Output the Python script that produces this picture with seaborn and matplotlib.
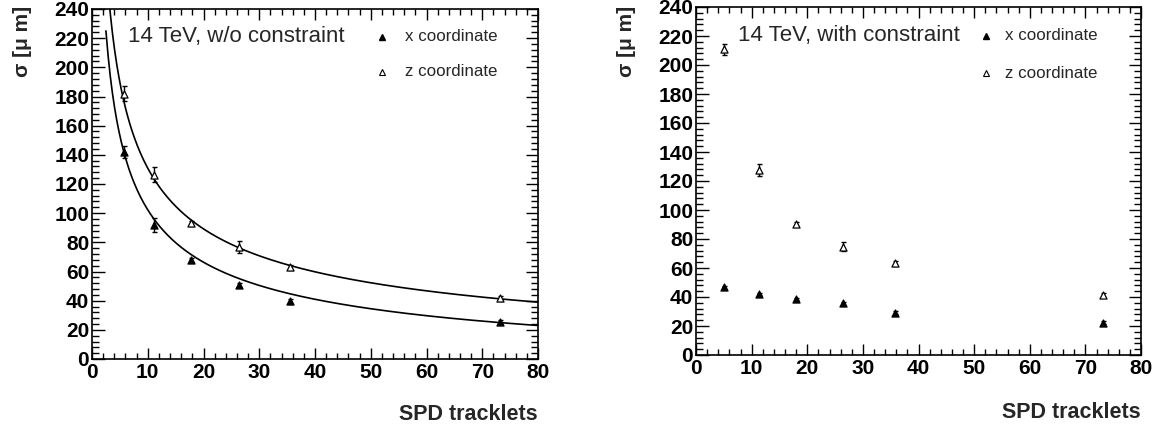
import numpy as np
import pandas as pd
import seaborn as sns
import matplotlib
matplotlib.use("Agg")
import matplotlib.pyplot as plt
from matplotlib.ticker import MultipleLocator

sns.set_theme(style="ticks")
plt.rcParams['font.family'] = ['Liberation Sans', 'DejaVu Sans']

# ---- data ----
tracklets_left = [5.8, 11.1, 17.8, 26.3, 35.6, 73.1]
sigma_x_left = [142, 92, 68, 50.7, 39.5, 25.4]
err_x_left = [4, 5, 1.5, 1.5, 1.5, 1.5]
sigma_z_left = [182, 126.5, 93, 77, 62.8, 41.6]
err_z_left = [5, 5, 1.5, 4, 1.5, 1.5]

tracklets_right = [5.0, 11.4, 17.9, 26.4, 35.7, 73.1]
sigma_x_right = [46.7, 42.1, 38.6, 35.6, 29.2, 22.3]
err_x_right = [1.0, 1.0, 1.0, 1.0, 1.0, 1.0]
sigma_z_right = [210.8, 127.6, 90.3, 74.7, 63.2, 41.4]
err_z_right = [4, 4, 1.5, 3, 1.5, 1.5]

# fit parameters  sigma = p0/sqrt(N) + p1  (left panel)
fit_x_params = [388.0, -20.4]
fit_z_params = [449.5, -11.3]
fit_range = [2.5, 80.0]

xticks = [0, 10, 20, 30, 40, 50, 60, 70, 80]
yticks = [0, 20, 40, 60, 80, 100, 120, 140, 160, 180, 200, 220, 240]

W, H = 1159, 433
fig = plt.figure(figsize=(W / 100, H / 100), dpi=100)
axL = fig.add_axes([92 / W, 74 / H, 446 / W, 350 / H])
axR = fig.add_axes([696 / W, 78 / H, 445 / W, 348 / H])


def style_axis(ax):
    ax.set_xlim(0, 80)
    ax.set_ylim(0, 240)
    ax.set_xticks(xticks)
    ax.set_yticks(yticks)
    ax.set_xticklabels([str(t) for t in xticks], fontweight='bold', fontsize=15)
    ax.set_yticklabels([str(t) for t in yticks], fontweight='bold', fontsize=15)
    ax.xaxis.set_minor_locator(MultipleLocator(2))
    ax.yaxis.set_minor_locator(MultipleLocator(4))
    ax.tick_params(which='both', direction='in', top=True, right=True,
                   color='black', width=1.0, labelcolor='black')
    ax.tick_params(axis='x', which='major', length=8, pad=3)
    ax.tick_params(axis='x', which='minor', length=4.3)
    ax.tick_params(axis='y', which='major', length=9, pad=2)
    ax.tick_params(axis='y', which='minor', length=5)
    for s in ax.spines.values():
        s.set_visible(True)
        s.set_color('black')
        s.set_linewidth(1.2)
    ax.set_xlabel('')
    ax.set_ylabel('')
    ax.set_facecolor('white')


def draw_points(ax, xs, ys, errs, filled):
    df = pd.DataFrame({'x': xs, 'y': ys})
    ax.errorbar(xs, ys, yerr=errs, fmt='none', ecolor='black',
                elinewidth=1.0, capsize=1.8, capthick=1.0, zorder=3)
    sns.scatterplot(data=df, x='x', y='y', ax=ax, marker='^', s=26,
                    color='black' if filled else 'white',
                    edgecolor='black', linewidth=0.9, zorder=4, legend=False)


# left panel
xf = np.linspace(fit_range[0], fit_range[1], 400)
fit_df = pd.DataFrame({
    'x': np.concatenate([xf, xf]),
    'y': np.concatenate([fit_x_params[0] / np.sqrt(xf) + fit_x_params[1],
                         fit_z_params[0] / np.sqrt(xf) + fit_z_params[1]]),
    'c': ['x'] * len(xf) + ['z'] * len(xf),
})
sns.lineplot(data=fit_df, x='x', y='y', units='c', estimator=None,
             color='black', linewidth=1.2, ax=axL, legend=False, zorder=2)
draw_points(axL, tracklets_left, sigma_x_left, err_x_left, True)
draw_points(axL, tracklets_left, sigma_z_left, err_z_left, False)

draw_points(axR, tracklets_right, sigma_x_right, err_x_right, True)
draw_points(axR, tracklets_right, sigma_z_right, err_z_right, False)

for ax in (axL, axR):
    style_axis(ax)

# annotations
axL.text(0.080, (359 - 37) / 350, '14 TeV, w/o constraint', transform=axL.transAxes,
         fontsize=16, va='center', ha='left')
axR.text(0.095, (355 - 35) / 348, '14 TeV, with constraint', transform=axR.transAxes,
         fontsize=16, va='center', ha='left')


def legend(ax, xm, xt, y1, y2):
    ax.plot([xm], [y1], marker='^', ms=4.2, color='black', mec='black',
            transform=ax.transAxes, clip_on=False)
    ax.plot([xm], [y2], marker='^', ms=4.2, mfc='white', mec='black', mew=0.8,
            transform=ax.transAxes, clip_on=False)
    ax.text(xt, y1, 'x coordinate', transform=ax.transAxes, fontsize=12.2,
            va='center', ha='left')
    ax.text(xt, y2, 'z coordinate', transform=ax.transAxes, fontsize=12.2,
            va='center', ha='left')


legend(axL, (382 - 92) / 446, (405 - 92) / 446, (359 - 37) / 350, (359 - 72) / 350)
legend(axR, (986 - 696) / 445, (1005 - 696) / 445, (355 - 36) / 348, (355 - 73) / 348)

# axis titles (ROOT style)
for x_px in (23, 627):
    fig.text(x_px / W, 1 - 6 / H, 'σ [μ m]', rotation=90, ha='center', va='top',
             fontsize=15, fontweight='bold')
fig.text(538 / W, 1 - 414 / H, 'SPD tracklets', ha='right', va='center',
         fontsize=15.5, fontweight='bold')
fig.text(1141 / W, 1 - 413 / H, 'SPD tracklets', ha='right', va='center',
         fontsize=15.5, fontweight='bold')

fig.savefig('out.png', dpi=100, facecolor='white')
